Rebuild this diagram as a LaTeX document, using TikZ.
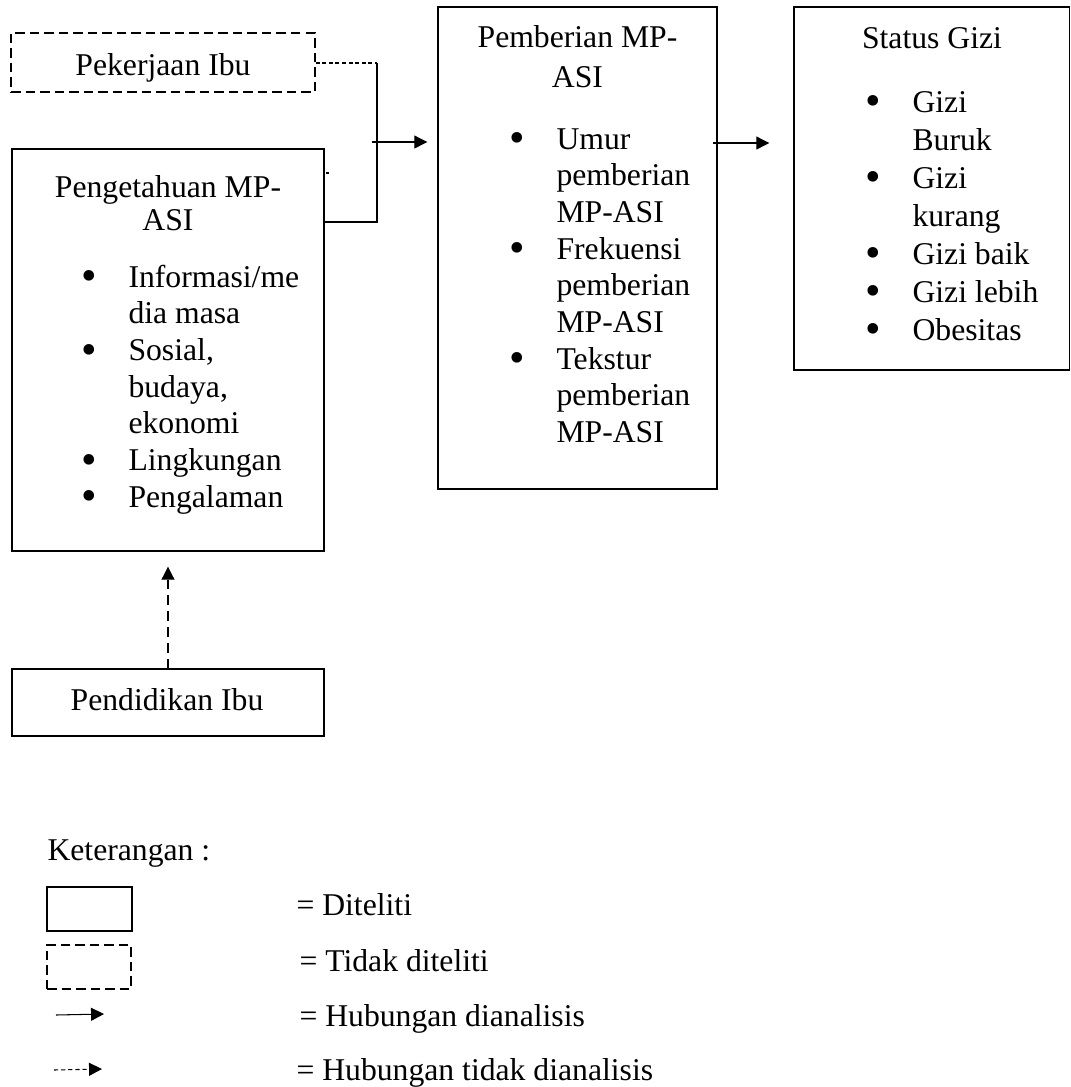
\documentclass[tikz,border=0pt]{standalone}
\usepackage{fontspec}
\usepackage{graphicx}
\setmainfont{Liberation Serif}
\usetikzlibrary{arrows.meta,fit}

\newcommand{\butir}[1]{\makebox[18pt][l]{\raisebox{-0.12em}{\scalebox{1.4}{\textbullet}}}#1}
\newcommand{\lanjut}{\hspace*{18pt}}

\begin{document}
\begin{tikzpicture}[x=0.3788pt, y=-0.3788pt, font=\fontsize{12pt}{13.9pt}\selectfont,
  kotak/.style={draw, line width=0.5pt, inner sep=0pt},
  kotakputus/.style={kotak, dash pattern=on 3.6pt off 1.9pt},
  garis/.style={line width=0.4pt},
  panah/.style={garis, -{Triangle[length=4.9pt,width=4.9pt]}},
  panahputus/.style={panah, dash pattern=on 3.6pt off 2.4pt},
  judul/.style={inner sep=0pt, anchor=base},
  isi/.style={inner sep=0pt, anchor=base west}]

\useasboundingbox (0,0) rectangle (1071,1087);

\node[kotakputus, fit={(11,33) (315,92)}] (pekerjaan) {};
\node[kotak, fit={(12,149) (324,551)}] (pengetahuan) {};
\node[kotak, fit={(438,7) (717,489)}] (pemberian) {};
\node[kotak, fit={(794,7) (1069.5,370)}] (status) {};
\node[kotak, fit={(12,669) (324,736)}] (pendidikan) {};

\node[judul] (tPekerjaan) at (163,75) {Pekerjaan Ibu};
\node[judul] (tPengetahuan) at (168,197) {\parbox[t]{110pt}{\centering Pengetahuan MP-\\[-1.4pt]ASI}};
\node[isi] (lPengetahuan) at (80.5,287) {\parbox[t]{90pt}{\butir{Informasi/me}\\ \lanjut dia masa\\ \butir{Sosial,}\\ \lanjut budaya,\\ \lanjut ekonomi\\ \butir{Lingkungan}\\ \butir{Pengalaman}}};
\node[judul] (tPemberian) at (577.5,47) {\parbox[t]{100pt}{\centering Pemberian MP-\\[1.6pt]ASI}};
\node[isi] (lPemberian) at (508.5,149) {\parbox[t]{80pt}{\butir{Umur}\\ \lanjut pemberian\\ \lanjut MP-ASI\\ \butir{Frekuensi}\\ \lanjut pemberian\\ \lanjut MP-ASI\\ \butir{Tekstur}\\ \lanjut pemberian\\ \lanjut MP-ASI}};
\node[judul] (tStatus) at (932,48) {Status Gizi};
\node[isi, font=\fontsize{12pt}{14.4pt}\selectfont] (lStatus) at (864.5,112) {\parbox[t]{80pt}{\butir{Gizi}\\ \lanjut Buruk\\ \butir{Gizi}\\ \lanjut kurang\\ \butir{Gizi baik}\\ \butir{Gizi lebih}\\ \butir{Obesitas}}};
\node[judul] (tPendidikan) at (167,710) {Pendidikan Ibu};

\coordinate (simpulAtas) at (377,63);
\coordinate (simpulBawah) at (377,222);
\coordinate (pangkalA) at (372,142);
\coordinate (pangkalB) at (713,143);

\draw[garis, dash pattern=on 1.5pt off 1pt] (simpulAtas -| pekerjaan.east) -- (simpulAtas);
\draw[garis] (simpulAtas) -- (simpulBawah) -- (simpulBawah -| pengetahuan.east);
\draw[garis] (326,173) -- (329,173);
\draw[panah, shorten >=3.8pt] (pangkalA) -- (pangkalA -| pemberian.west);
\draw[panah, shorten >=9.1pt] (pangkalB) -- (pangkalB -| status.west);
\draw[panahputus, shorten >=5.7pt] (pendidikan.north) -- (pengetahuan.south);

\node[isi] (keterangan) at (47,860) {Keterangan :};
\node[kotak, fit={(47,887) (132,931)}] (lgTeliti) {};
\node[kotakputus, fit={(47,945) (131,989)}] (lgTidak) {};
\coordinate (lgA1) at (56,1015);
\coordinate (lgA2) at (104,1014);
\coordinate (lgB1) at (54,1070);
\coordinate (lgB2) at (102,1069);
\draw[panah] (lgA1) -- (lgA2);
\draw[panah, dash pattern=on 1.6pt off 1.1pt] (lgB1) -- (lgB2);
\node[isi] (kTeliti) at (296,915) {= Diteliti};
\node[isi] (kTidak) at (299,971) {= Tidak diteliti};
\node[isi] (kHub) at (299,1026) {= Hubungan dianalisis};
\node[isi] (kHubTidak) at (296,1080) {= Hubungan tidak dianalisis};

\end{tikzpicture}
\end{document}
